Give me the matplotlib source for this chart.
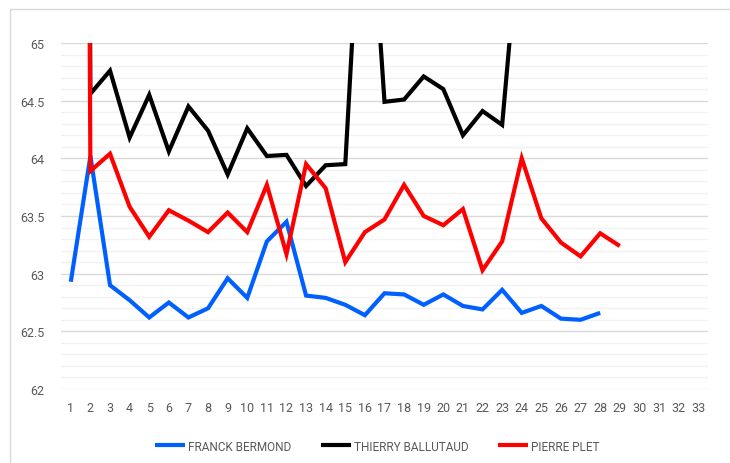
import numpy as np
import matplotlib
matplotlib.use("Agg")
import matplotlib.pyplot as plt
from matplotlib.patches import Rectangle
from matplotlib.ticker import MultipleLocator

# laps 1..33
laps = list(range(1, 34))

# lap times; lap 1 and the two spikes are off-scale (guessed)
franck = [62.93, 64.02, 62.90, 62.77, 62.62, 62.75, 62.62, 62.70, 62.96, 62.79,
          63.28, 63.45, 62.81, 62.79, 62.73, 62.64, 62.83, 62.82, 62.73, 62.82,
          62.72, 62.69, 62.86, 62.66, 62.72, 62.61, 62.60, 62.66]
thierry = [96.0, 64.56, 64.76, 64.18, 64.55, 64.06, 64.45, 64.24, 63.86, 64.26,
           64.02, 64.03, 63.76, 63.94, 63.95, 67.0, 64.49, 64.51, 64.71, 64.60,
           64.20, 64.41, 64.29, 66.2]
pierre = [96.0, 63.89, 64.04, 63.58, 63.32, 63.55, 63.46, 63.36, 63.53, 63.36,
          63.77, 63.17, 63.95, 63.74, 63.10, 63.36, 63.47, 63.77, 63.50, 63.42,
          63.56, 63.03, 63.28, 64.00, 63.48, 63.27, 63.15, 63.35, 63.24]
ytick_labels = ["62", "62.5", "63", "63.5", "64", "64.5", "65"]

series = [("FRANCK BERMOND", franck, "#0060ff"),
          ("THIERRY BALLUTAUD", thierry, "#000000"),
          ("PIERRE PLET", pierre, "#ff0000")]

plt.rcParams['font.family'] = ['Roboto', 'DejaVu Sans']

fig = plt.figure(figsize=(7.3, 4.64), dpi=100)
# light chart border
fig.patches.append(Rectangle((9.5 / 730, -0.1), 1.2, 1 - 9.5 / 464 + 0.1,
                             transform=fig.transFigure, fill=False,
                             edgecolor="#d9d9d9", linewidth=1))

ax = fig.add_axes([61 / 730, 1 - 390 / 464, (708 - 61) / 730, (390 - 44) / 464])

for name, vals, col in series:
    x = laps[:len(vals)]
    ax.plot(x, vals, color=col, lw=3, label=name,
            solid_joinstyle="miter", solid_capstyle="butt")

ax.set_xlim(0.5, 33.5)
ax.set_ylim(62, 65)
ax.set_xticks(laps)
ax.set_yticks(np.arange(62, 65.01, 0.5))
ax.set_yticklabels(ytick_labels)
ax.yaxis.set_minor_locator(MultipleLocator(0.1))

ax.grid(axis="y", which="major", color="#d9d9d9", lw=1)
ax.grid(axis="y", which="minor", color="#f2f2f2", lw=1)
ax.set_axisbelow(True)
for s in ax.spines.values():
    s.set_visible(False)
ax.tick_params(axis="both", which="both", length=0, labelsize=9, colors="#595959")
ax.tick_params(axis="y", pad=12)
ax.tick_params(axis="x", pad=9)

ax.legend(loc="center", bbox_to_anchor=(0.5 - 0.011, -0.165), ncol=3, frameon=False,
          fontsize=8.5, labelcolor="#595959", handlelength=2.55, handletextpad=0.25,
          columnspacing=2.5)

fig.savefig("out.png", dpi=100)
